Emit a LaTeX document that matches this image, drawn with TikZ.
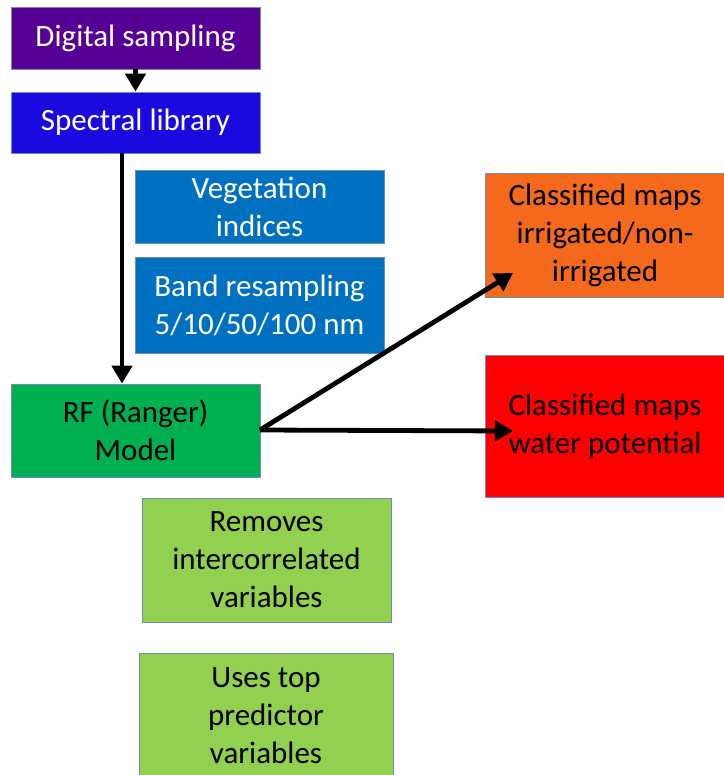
\documentclass[tikz,border=0pt]{standalone}
\usepackage{fontspec}
\setmainfont{Carlito}
\usetikzlibrary{arrows.meta,calc}
\definecolor{cpurple}{HTML}{560096}
\definecolor{cblue}{HTML}{1A0AE0}
\definecolor{cmid}{HTML}{0070C0}
\definecolor{cgreen}{HTML}{00B050}
\definecolor{clight}{HTML}{92D050}
\definecolor{corange}{HTML}{F4691C}
\definecolor{cred}{HTML}{FF0000}
\definecolor{cborder}{HTML}{6F8DB8}
\tikzset{
  box/.style={draw=cborder, line width=0.8pt, inner sep=0pt, align=center,
    font=\fontsize{31}{38}\selectfont},
  arr/.style={line width=4.8pt, -{Triangle[length=18pt,width=20pt]}},
}
\begin{document}
\begin{tikzpicture}[x=1pt,y=-1pt]
\useasboundingbox (0,0) rectangle (723,775);
\node[box, fill=cpurple, text=white, minimum width=249pt, minimum height=62pt] (ds) at (135.5,38) {Digital sampling};
\node[box, fill=cblue, text=white, minimum width=249pt, minimum height=61pt] (sl) at (135.5,122.5) {Spectral library};
\node[box, fill=cmid, text=white, minimum width=249pt, minimum height=73pt] (vi) at (259.5,206.5) {Vegetation\\indices};
\node[box, fill=cmid, text=white, minimum width=249pt, minimum height=96pt] (br) at (259.5,305) {Band resampling\\5/10/50/100 nm};
\node[box, fill=cgreen, minimum width=249pt, minimum height=93pt] (rf) at (135.5,430.5) {RF (Ranger)\\Model};
\node[box, fill=corange, minimum width=240pt, minimum height=124pt] (or) at (605,235) {Classified maps\\irrigated/non-\\irrigated};
\node[box, fill=cred, minimum width=240pt, minimum height=142pt] (rd) at (605,426) {Classified maps\\water potential};
\node[box, fill=clight, minimum width=249pt, minimum height=124pt] (rm) at (266.5,560) {Removes\\intercorrelated\\variables};
\node[box, fill=clight, minimum width=254pt, minimum height=126pt] (ut) at (266,716) {Uses top\\predictor\\variables};
\coordinate (x122) at (122,0);
\coordinate (t1) at (513,273);
\coordinate (t2) at (513,431);
\coordinate (s0) at (260,430);
\draw[arr] (ds.south) -- (sl.north);
\draw[arr] (sl.south -| x122) -- (rf.north -| x122);
\draw[arr] (s0) -- (t1);
\draw[arr] (s0) -- (t2);
\end{tikzpicture}
\end{document}
